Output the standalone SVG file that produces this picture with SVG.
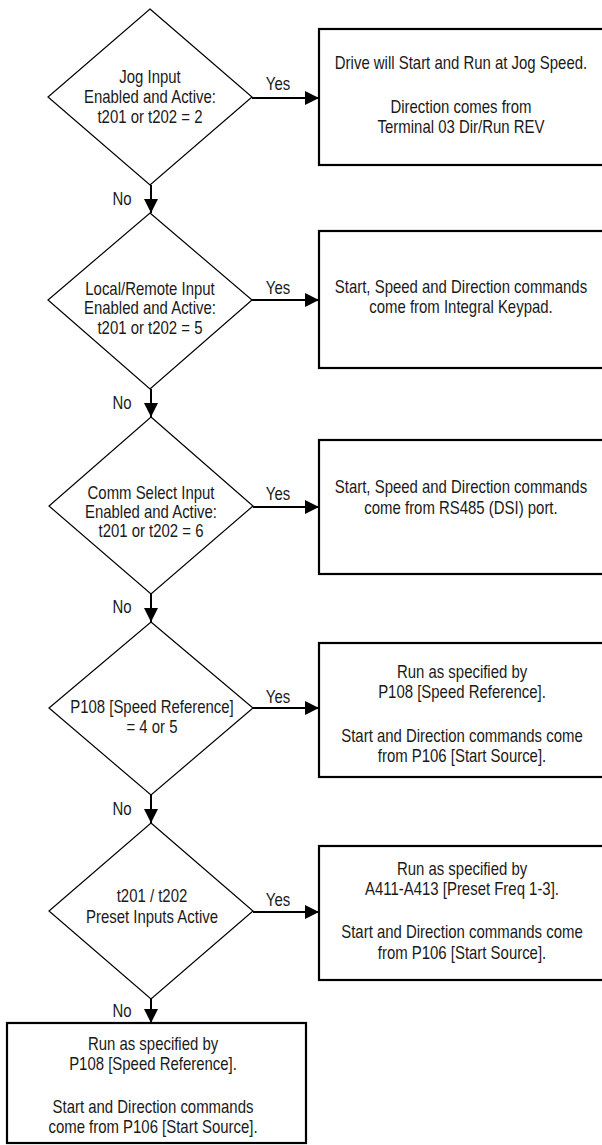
<svg xmlns="http://www.w3.org/2000/svg" width="602" height="1145" viewBox="0 0 602 1145">
<style>
text{font-family:"Liberation Sans",Arial,sans-serif;font-size:18px;fill:#1a1a1a;text-anchor:middle;transform-box:fill-box;transform-origin:center;transform:scaleX(0.83)}
.dia{fill:#fff;stroke:#000;stroke-width:1.2}
.box{fill:#fff;stroke:#000;stroke-width:2.2}
.con{stroke:#000;stroke-width:2;fill:none}
</style>
<defs>
<marker id="ah" markerUnits="userSpaceOnUse" markerWidth="14" markerHeight="14" viewBox="0 0 14 14" refX="14" refY="7" orient="auto">
<path d="M0,0 L14,7 L0,14 Z" fill="#000"/>
</marker>
</defs>
<rect width="602" height="1145" fill="#fff"/>
<g id="connectors">
<line class="con" x1="252" y1="98" x2="319" y2="98" marker-end="url(#ah)"/>
<line class="con" x1="151" y1="185" x2="151" y2="213" marker-end="url(#ah)"/>
<line class="con" x1="252" y1="300" x2="319" y2="300" marker-end="url(#ah)"/>
<line class="con" x1="151" y1="389" x2="151" y2="417" marker-end="url(#ah)"/>
<line class="con" x1="253" y1="507" x2="319" y2="507" marker-end="url(#ah)"/>
<line class="con" x1="151" y1="594" x2="151" y2="622" marker-end="url(#ah)"/>
<line class="con" x1="253" y1="708" x2="319" y2="708" marker-end="url(#ah)"/>
<line class="con" x1="151" y1="795" x2="151" y2="823" marker-end="url(#ah)"/>
<line class="con" x1="253" y1="912" x2="319" y2="912" marker-end="url(#ah)"/>
<line class="con" x1="151" y1="999" x2="151" y2="1023" marker-end="url(#ah)"/>
<text x="278" y="90">Yes</text>
<text x="122" y="205">No</text>
<text x="278" y="294">Yes</text>
<text x="122" y="409">No</text>
<text x="278" y="500">Yes</text>
<text x="122" y="613">No</text>
<text x="278" y="703">Yes</text>
<text x="122" y="815">No</text>
<text x="278" y="906">Yes</text>
<text x="122" y="1017">No</text>
</g>
<g id="d1">
<polygon class="dia" points="150,9 252,97 150,185 48,97"/>
<text x="150" y="83">Jog Input</text>
<text x="150" y="103">Enabled and Active:</text>
<text x="150" y="123">t201 or t202 = 2</text>
</g>
<g id="b1">
<rect class="box" x="319" y="29" width="290" height="136"/>
<text x="461" y="69">Drive will Start and Run at Jog Speed.</text>
<text x="461" y="113">Direction comes from</text>
<text x="461" y="133">Terminal 03 Dir/Run REV</text>
</g>
<g id="d2">
<polygon class="dia" points="150,213 252,300 150,389 48,300"/>
<text x="150" y="295">Local/Remote Input</text>
<text x="150" y="314.5">Enabled and Active:</text>
<text x="150" y="334">t201 or t202 = 5</text>
</g>
<g id="b2">
<rect class="box" x="319" y="231" width="290" height="137"/>
<text x="461" y="293">Start, Speed and Direction commands</text>
<text x="461" y="313">come from Integral Keypad.</text>
</g>
<g id="d3">
<polygon class="dia" points="151,417 253,506 151,594 49,506"/>
<text x="151" y="499">Comm Select Input</text>
<text x="151" y="518">Enabled and Active:</text>
<text x="151" y="537">t201 or t202 = 6</text>
</g>
<g id="b3">
<rect class="box" x="319" y="440" width="290" height="134"/>
<text x="461" y="493">Start, Speed and Direction commands</text>
<text x="461" y="514">come from RS485 (DSI) port.</text>
</g>
<g id="d4">
<polygon class="dia" points="151,622 253,708 151,795 49,708"/>
<text x="152" y="713">P108 [Speed Reference]</text>
<text x="152" y="733">= 4 or 5</text>
</g>
<g id="b4">
<rect class="box" x="319" y="643" width="290" height="134"/>
<text x="462" y="678">Run as specified by</text>
<text x="462" y="698">P108 [Speed Reference].</text>
<text x="462" y="742">Start and Direction commands come</text>
<text x="462" y="762">from P106 [Start Source].</text>
</g>
<g id="d5">
<polygon class="dia" points="151,823 253,911 151,999 49,911"/>
<text x="152" y="902">t201 / t202</text>
<text x="152" y="923">Preset Inputs Active</text>
</g>
<g id="b5">
<rect class="box" x="319" y="846" width="290" height="134"/>
<text x="462" y="875">Run as specified by</text>
<text x="462" y="895">A411-A413 [Preset Freq 1-3].</text>
<text x="462" y="938">Start and Direction commands come</text>
<text x="462" y="959">from P106 [Start Source].</text>
</g>
<g id="b6">
<rect class="box" x="7" y="1023" width="299" height="120"/>
<text x="153" y="1050">Run as specified by</text>
<text x="153" y="1070">P108 [Speed Reference].</text>
<text x="153" y="1113">Start and Direction commands</text>
<text x="153" y="1133">come from P106 [Start Source].</text>
</g>
</svg>
